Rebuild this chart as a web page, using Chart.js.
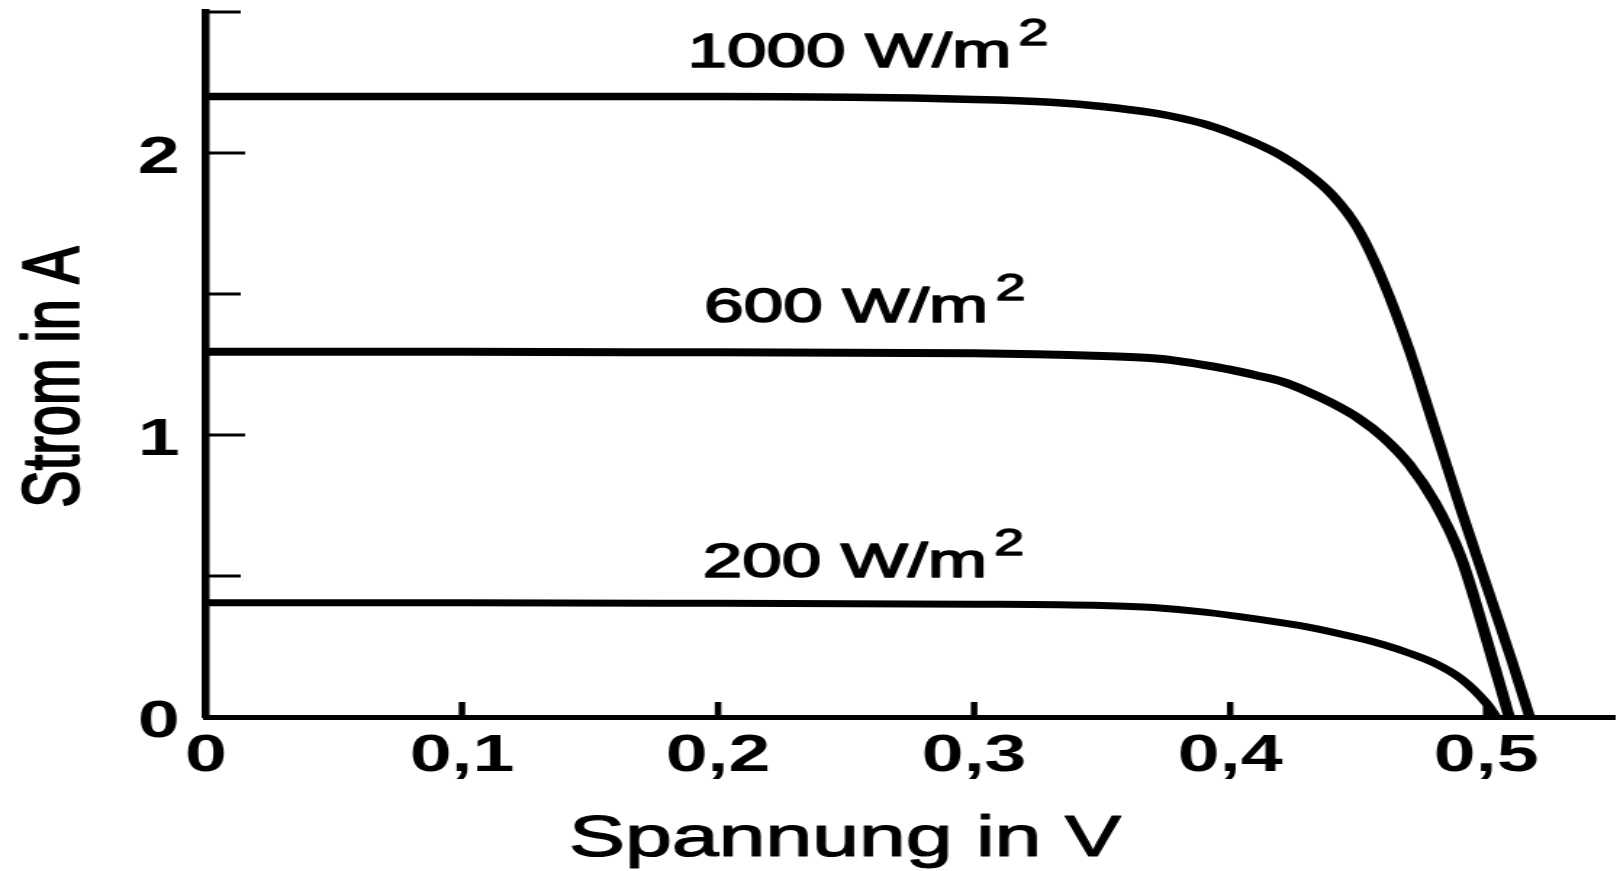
<!DOCTYPE html>
<html>
<head>
<meta charset="utf-8">
<script src="https://cdn.jsdelivr.net/npm/chart.js@4.4.1/dist/chart.umd.min.js"></script>
<style>
  html, body { margin: 0; padding: 0; background: #fff; overflow: hidden; }
  /* the original picture is stretched horizontally, so the canvas is too */
  #kennlinie { position: absolute; left: 0; top: 0; transform: scaleX(1.45031); transform-origin: 0 0; }
</style>
</head>
<body>
<canvas id="kennlinie" width="1117" height="871"></canvas>
<script>
// Kennlinien einer Solarzelle bei drei Einstrahlungen (Spannung in V, Strom in A)
const voltage1000 = [0, 0.1, 0.2, 0.3, 0.33, 0.35, 0.37, 0.38, 0.39, 0.4, 0.41, 0.42, 0.43, 0.44, 0.45, 0.46, 0.47, 0.48, 0.49, 0.5, 0.51, 0.517];
const current1000 = [2.2, 2.2, 2.2, 2.19, 2.18, 2.165, 2.142, 2.125, 2.103, 2.072, 2.035, 1.99, 1.93, 1.85, 1.73, 1.54, 1.3, 1.02, 0.74, 0.47, 0.2, 0];

const voltage600 = [0, 0.1, 0.2, 0.3, 0.35, 0.37, 0.38, 0.39, 0.4, 0.41, 0.42, 0.43, 0.44, 0.45, 0.46, 0.47, 0.48, 0.49, 0.5, 0.509];
const current600 = [1.295, 1.295, 1.293, 1.29, 1.28, 1.272, 1.262, 1.248, 1.232, 1.212, 1.19, 1.155, 1.112, 1.06, 0.99, 0.895, 0.76, 0.57, 0.28, 0];

const voltage200 = [0, 0.1, 0.2, 0.3, 0.35, 0.37, 0.39, 0.41, 0.43, 0.45, 0.46, 0.47, 0.48, 0.49, 0.5, 0.504];
const current200 = [0.405, 0.405, 0.403, 0.4, 0.395, 0.388, 0.372, 0.348, 0.32, 0.28, 0.256, 0.226, 0.19, 0.137, 0.05, 0];

const curveLabels = ['1000 W/m', '600 W/m', '200 W/m'];

const xTickValues = [0, 0.1, 0.2, 0.3, 0.4, 0.5];
const xTickLabels = ['0', '0,1', '0,2', '0,3', '0,4', '0,5'];
const yTickValues = [0, 1, 2];
const yTickLabels = ['0', '1', '2'];
const yTickMarks = [0.5, 1, 1.5, 2, 2.5];

const fontFamily = '"Liberation Sans", Arial, sans-serif';

function toPoints(xs, ys) {
    return xs.map((x, i) => ({ x: x, y: ys[i] }));
}

// heavier text, like the printed original
function heavyText(ctx, txt, x, y, w) {
    ctx.lineWidth = w;
    ctx.lineJoin = 'round';
    ctx.strokeText(txt, x, y);
    ctx.fillText(txt, x, y);
}

// Striche nach innen, Kurvenbeschriftung und Achsentitel
const decorPlugin = {
    id: 'decor',
    afterDraw(chart) {
        const ctx = chart.ctx;
        const xs = chart.scales.x;
        const ys = chart.scales.y;
        const area = chart.chartArea;
        ctx.save();
        ctx.strokeStyle = '#000';
        ctx.fillStyle = '#000';

        // y ticks pointing right
        ctx.lineWidth = 3;
        yTickMarks.forEach(v => {
            const y = ys.getPixelForValue(v);
            const len = Number.isInteger(v) ? 27 : 24;
            ctx.beginPath();
            ctx.moveTo(area.left, y);
            ctx.lineTo(area.left + len, y);
            ctx.stroke();
        });

        // x ticks pointing up
        ctx.lineWidth = 4.5;
        xTickValues.slice(1).forEach(v => {
            const x = xs.getPixelForValue(v);
            ctx.beginPath();
            ctx.moveTo(x, area.bottom);
            ctx.lineTo(x, area.bottom - 15);
            ctx.stroke();
        });

        // labels on the curves
        const anchors = [[0.188, 2.305], [0.1945, 1.40], [0.194, 0.496]];
        curveLabels.forEach((txt, i) => {
            const x = xs.getPixelForValue(anchors[i][0]);
            const y = ys.getPixelForValue(anchors[i][1]);
            ctx.font = '49px ' + fontFamily;
            ctx.textAlign = 'left';
            ctx.textBaseline = 'alphabetic';
            heavyText(ctx, txt, x, y, 1.6);
            const w = ctx.measureText(txt).width;
            ctx.font = '37px ' + fontFamily;
            heavyText(ctx, '2', x + w + 5, y - 22, 1.4);
        });

        // axis titles
        ctx.font = '58px ' + fontFamily;
        ctx.textAlign = 'center';
        ctx.textBaseline = 'alphabetic';
        heavyText(ctx, 'Spannung in V', 582.6, 856, 1.2);

        ctx.translate(53.8, 377);
        ctx.rotate(-Math.PI / 2);
        ctx.font = '56px ' + fontFamily;
        heavyText(ctx, 'Strom in A', 0, 0, 1.6);
        ctx.restore();
    }
};

const lineStyle = {
    borderColor: '#000',
    pointRadius: 0,
    fill: false,
    showLine: true,
    cubicInterpolationMode: 'monotone'
};

new Chart(document.getElementById('kennlinie'), {
    type: 'scatter',
    data: {
        datasets: [
            Object.assign({ label: '1000 W/m²', data: toPoints(voltage1000, current1000), borderWidth: 7.5 }, lineStyle),
            Object.assign({ label: '600 W/m²', data: toPoints(voltage600, current600), borderWidth: 8 }, lineStyle),
            Object.assign({ label: '200 W/m²', data: toPoints(voltage200, current200), borderWidth: 7 }, lineStyle)
        ]
    },
    options: {
        responsive: false,
        animation: false,
        layout: { padding: { top: 12, right: 4, left: 0, bottom: 0 } },
        plugins: {
            legend: { display: false },
            tooltip: { enabled: false }
        },
        scales: {
            x: {
                type: 'linear',
                min: 0,
                max: 0.55,
                afterFit(scale) {
                    scale.height = 154;
                    scale.paddingLeft = 0;
                    scale.paddingRight = 0;
                },
                afterBuildTicks(scale) { scale.ticks = xTickValues.map(v => ({ value: v })); },
                grid: { display: true, drawOnChartArea: false, drawTicks: false },
                border: { display: true, color: '#000', width: 5 },
                ticks: {
                    color: '#000',
                    padding: 8,
                    maxRotation: 0,
                    autoSkip: false,
                    font: { family: fontFamily, size: 52, weight: 'bold' },
                    callback: (v, i) => xTickLabels[i]
                }
            },
            y: {
                type: 'linear',
                min: 0,
                max: 2.5,
                afterFit(scale) {
                    scale.width = 142;
                    scale.paddingTop = 0;
                    scale.paddingBottom = 0;
                },
                afterBuildTicks(scale) { scale.ticks = yTickValues.map(v => ({ value: v })); },
                grid: { display: true, drawOnChartArea: false, drawTicks: false },
                border: { display: true, color: '#000', width: 5.5 },
                ticks: {
                    color: '#000',
                    padding: 18,
                    labelOffset: 6,
                    autoSkip: false,
                    font: { family: fontFamily, size: 52, weight: 'bold' },
                    callback: (v, i) => yTickLabels[i]
                }
            }
        }
    },
    plugins: [decorPlugin]
});
</script>
</body>
</html>
